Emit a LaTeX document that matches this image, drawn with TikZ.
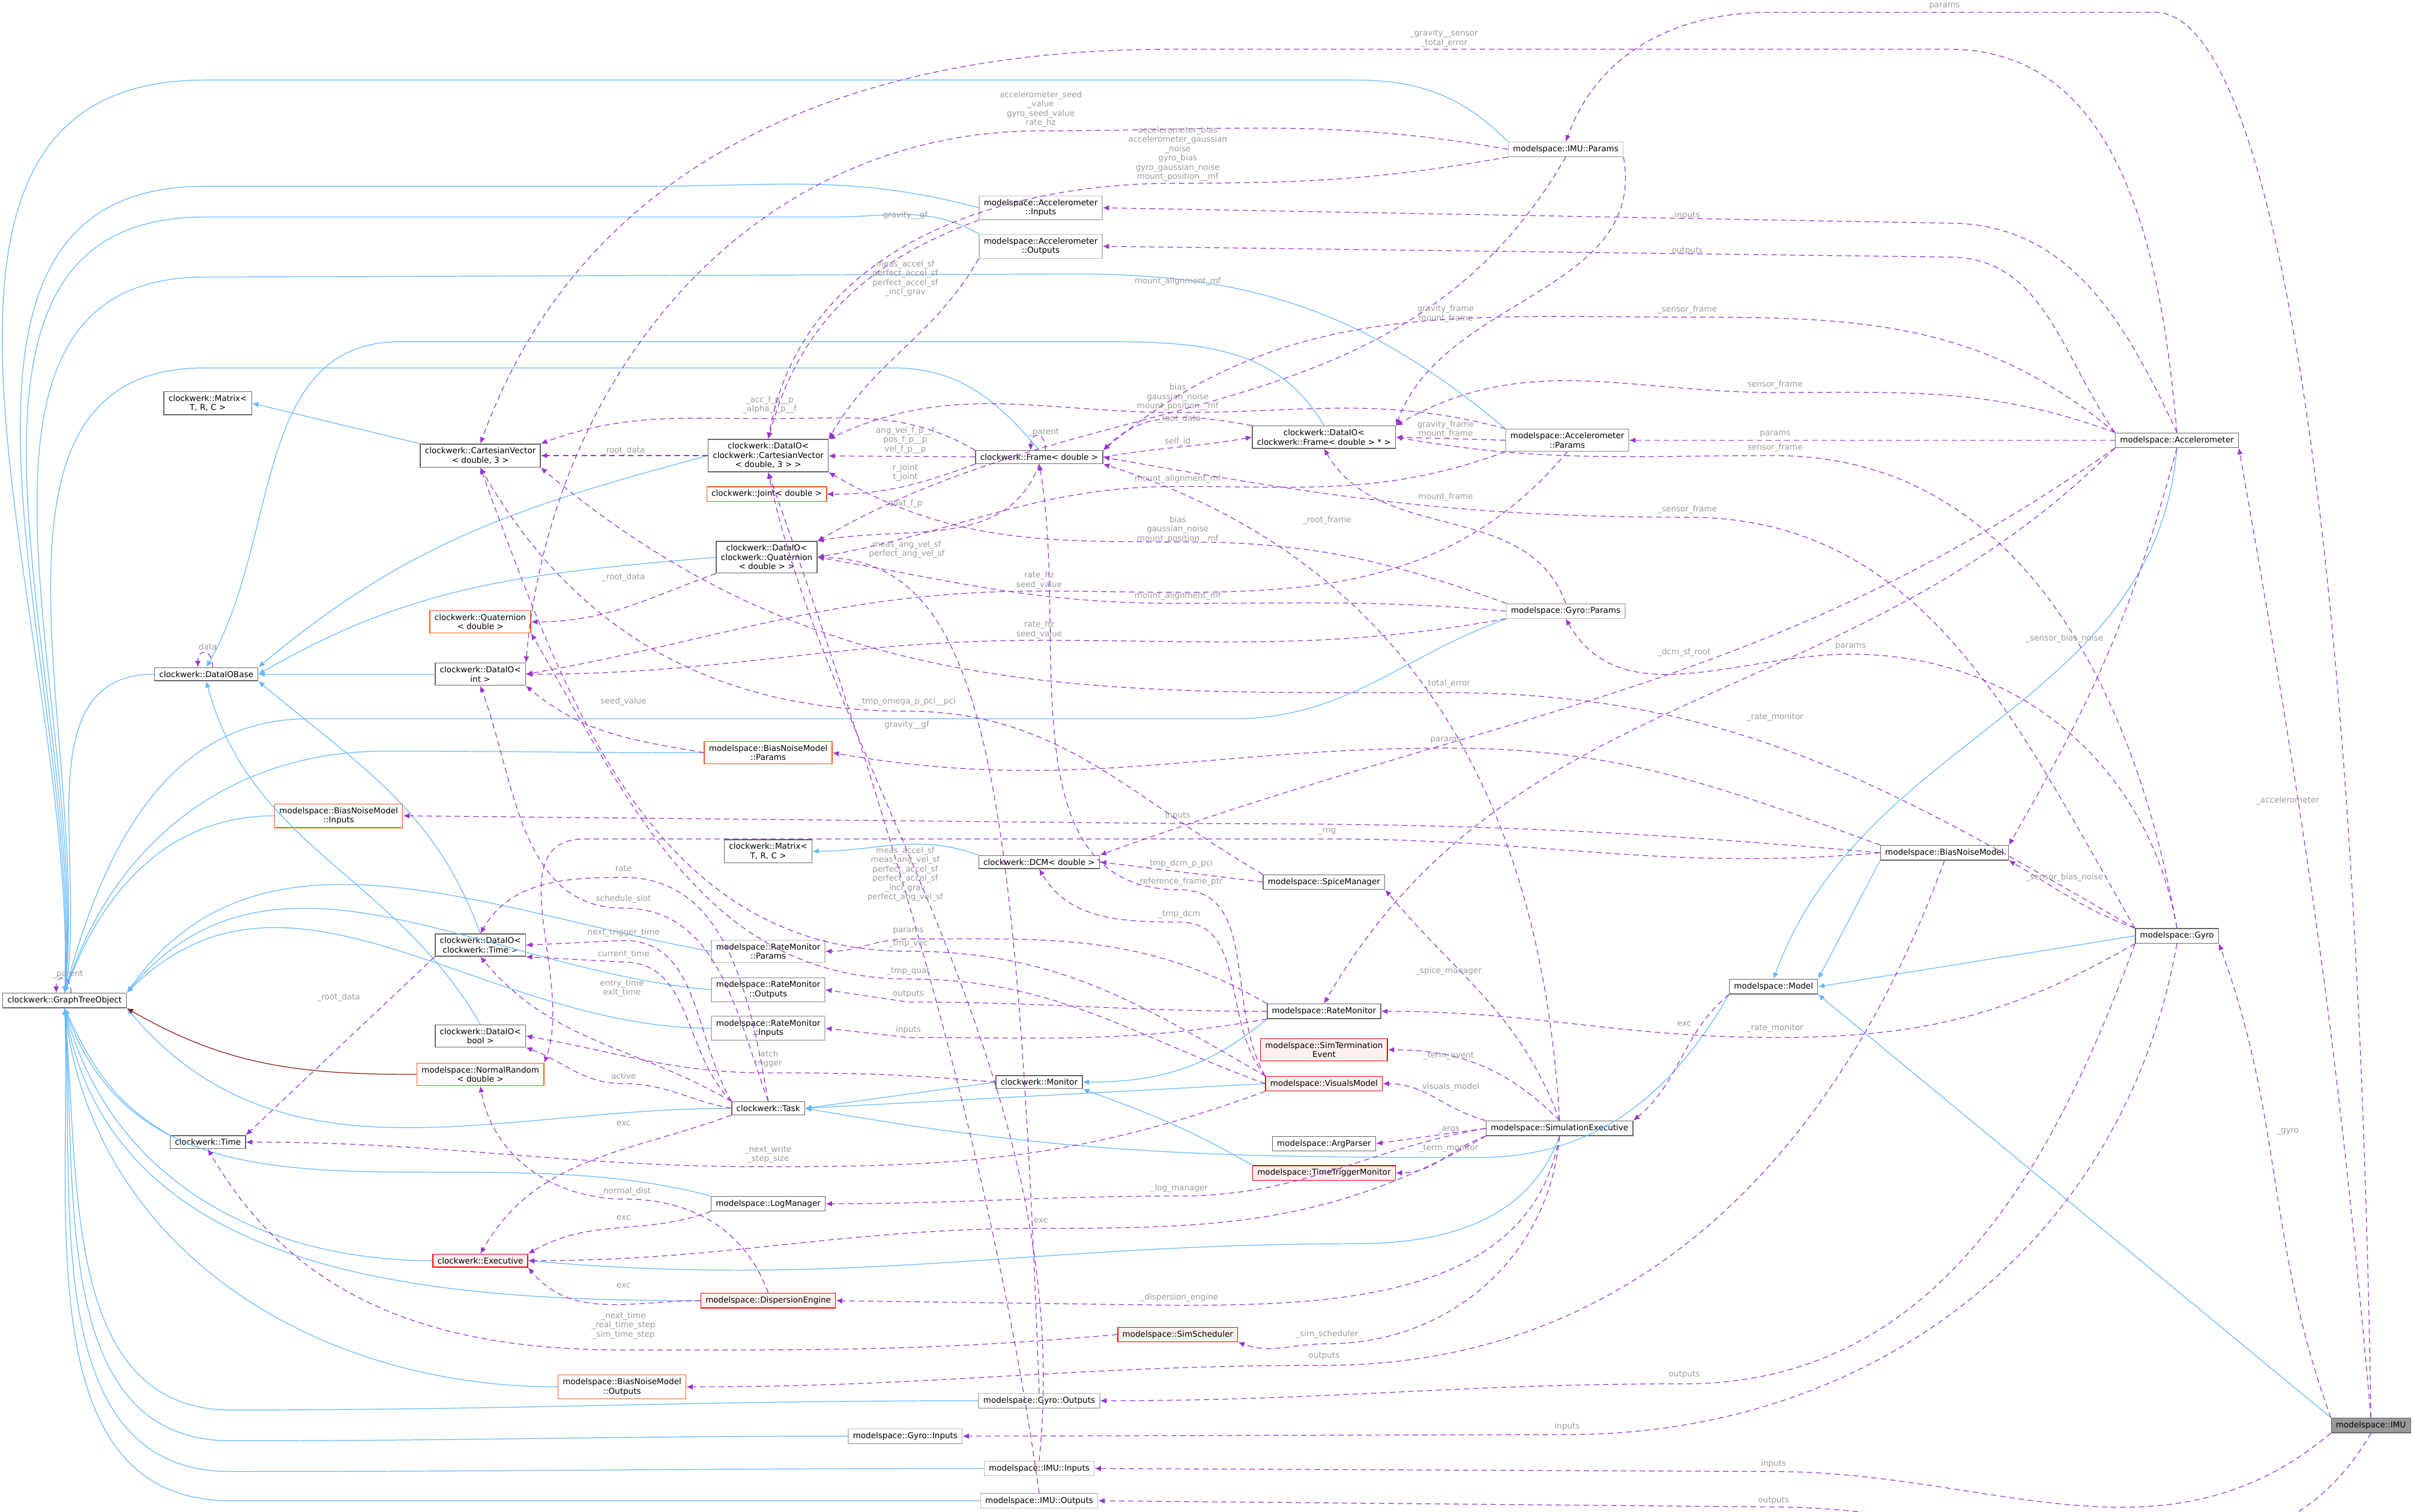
\documentclass[tikz,border=0pt]{standalone}
\usepackage{fontspec}
\setmainfont{DejaVu Sans}
\usepackage{tikz}
\usetikzlibrary{arrows.meta,calc}
\definecolor{usepurple}{HTML}{9A32CD}
\definecolor{inhblue}{HTML}{63B8FF}
\definecolor{tmpred}{HTML}{8B1A1A}
\definecolor{lblgray}{HTML}{9A9A9A}
\definecolor{boxgray}{HTML}{666666}
\definecolor{boxlight}{HTML}{BFBFBF}
\definecolor{boxorange}{HTML}{FF570F}
\definecolor{boxred}{HTML}{FF0000}
\definecolor{redfill}{HTML}{FFF0F0}
\definecolor{imufill}{HTML}{999999}

\begin{document}
\begin{tikzpicture}[
    x=0.02564cm, y=-0.02564cm,
    every node/.style={font=\fontsize{3.85}{4.4}\selectfont},
    box/.style={rectangle, draw=boxgray, fill=white, align=center, inner xsep=2.2pt, inner ysep=1.6pt, line width=0.4pt},
    lightbox/.style={box, draw=boxlight},
    orangebox/.style={box, draw=boxorange},
    redbox/.style={box, draw=boxred, fill=redfill},
    inh/.style={-{Latex[length=3pt,width=2.6pt]}, color=inhblue, line width=0.35pt},
    tmpl/.style={-{Latex[length=3pt,width=2.6pt]}, color=tmpred, line width=0.35pt},
    use/.style={-{Latex[length=3pt,width=2.6pt]}, color=usepurple, dash pattern=on 2.6pt off 1.8pt, line width=0.35pt},
    lbl/.style={text=lblgray, align=center, inner sep=0.5pt}
]
    \useasboundingbox (0,0) rectangle (1568,982);

    % clockwerk classes
    \node[box] (gto) at (42,650) {clockwerk::GraphTreeObject};
    \node[box] (iobase) at (134,438) {clockwerk::DataIOBase};
    \node[box] (matA) at (135,262) {clockwerk::Matrix<\\T, R, C >};
    \node[box] (cvec) at (312,296) {clockwerk::CartesianVector\\< double, 3 >};
    \node[orangebox] (quat) at (312,404) {clockwerk::Quaternion\\< double >};
    \node[box] (ioint) at (312,438) {clockwerk::DataIO<\\int >};
    \node[box] (iotime) at (312,614) {clockwerk::DataIO<\\clockwerk::Time >};
    \node[box] (iobool) at (312,673) {clockwerk::DataIO<\\bool >};
    \node[box] (time) at (135,742) {clockwerk::Time};
    \node[redbox] (exec) at (312,819) {clockwerk::Executive};
    \node[box] (iocvec) at (499,296) {clockwerk::DataIO<\\clockwerk::CartesianVector\\< double, 3 > >};
    \node[orangebox] (joint) at (498,321) {clockwerk::Joint< double >};
    \node[box] (ioquat) at (498,362) {clockwerk::DataIO<\\clockwerk::Quaternion\\< double > >};
    \node[box] (matB) at (499,553) {clockwerk::Matrix<\\T, R, C >};
    \node[box] (task) at (499,720) {clockwerk::Task};
    \node[box] (frame) at (675,297) {clockwerk::Frame< double >};
    \node[box] (dcm) at (675,560) {clockwerk::DCM< double >};
    \node[box] (monitor) at (675,703) {clockwerk::Monitor};
    \node[box] (ioframe) at (860,284) {clockwerk::DataIO<\\clockwerk::Frame< double > * >};

    % modelspace classes
    \node[orangebox] (bnmin) at (220,530) {modelspace::BiasNoiseModel\\::Inputs};
    \node[orangebox] (nrand) at (312,698) {modelspace::NormalRandom\\< double >};
    \node[orangebox] (bnmout) at (404,901) {modelspace::BiasNoiseModel\\::Outputs};
    \node[orangebox] (bnmpar) at (499,489) {modelspace::BiasNoiseModel\\::Params};
    \node[lightbox] (rmpar) at (499,618) {modelspace::RateMonitor\\::Params};
    \node[lightbox] (rmout) at (499,643) {modelspace::RateMonitor\\::Outputs};
    \node[lightbox] (rmin) at (499,668) {modelspace::RateMonitor\\::Inputs};
    \node[box] (logm) at (499,782) {modelspace::LogManager};
    \node[redbox] (disp) at (499,845) {modelspace::DispersionEngine};
    \node[lightbox] (gyin) at (588,933) {modelspace::Gyro::Inputs};
    \node[lightbox] (accin) at (676,135) {modelspace::Accelerometer\\::Inputs};
    \node[lightbox] (accout) at (676,160) {modelspace::Accelerometer\\::Outputs};
    \node[lightbox] (gyout) at (675,910) {modelspace::Gyro::Outputs};
    \node[lightbox] (imuin) at (675,954) {modelspace::IMU::Inputs};
    \node[lightbox] (imuout) at (675,975) {modelspace::IMU::Outputs};
    \node[redbox] (sched) at (765,867) {modelspace::SimScheduler};
    \node[box] (spice) at (860,573) {modelspace::SpiceManager};
    \node[box] (ratemon) at (860,657) {modelspace::RateMonitor};
    \node[redbox] (term) at (860,682) {modelspace::SimTermination\\Event};
    \node[redbox] (visual) at (860,704) {modelspace::VisualsModel};
    \node[box] (args) at (860,743) {modelspace::ArgParser};
    \node[redbox] (ttm) at (860,762) {modelspace::TimeTriggerMonitor};
    \node[lightbox] (imupar) at (1017,97) {modelspace::IMU::Params};
    \node[lightbox] (accpar) at (1018,286) {modelspace::Accelerometer\\::Params};
    \node[lightbox] (gypar) at (1017,397) {modelspace::Gyro::Params};
    \node[box] (simexec) at (1013,733) {modelspace::SimulationExecutive};
    \node[box] (model) at (1152,641) {modelspace::Model};
    \node[box] (bnm) at (1263,554) {modelspace::BiasNoiseModel};
    \node[box] (accel) at (1414,286) {modelspace::Accelerometer};
    \node[box] (gyro) at (1414,608) {modelspace::Gyro};
    \node[box, fill=imufill] (imu) at (1540,926) {modelspace::IMU};

    % inheritance
    \draw[inh] (iobase.west) to[out=180,in=80] (gto.north);
    \draw[inh] (iocvec.west) to[out=195,in=40] (iobase.north east);
    \draw[inh] (ioquat.west) to[out=185,in=30] (iobase.east);
    \draw[inh] (ioint) -- (iobase);
    \draw[inh] (iotime.north) to[out=110,in=-40] (iobase.south east);
    \draw[inh] (iobool.north) to[out=120,in=-75] (iobase.south);
    \draw[inh] (ioframe.north) to[out=120,in=0] (700,222) -- (260,222) to[out=180,in=60] (iobase.north);
    \draw[inh] (cvec.north west) -- (matA.east);
    \draw[inh] (dcm.north west) to[out=160,in=0] (matB.east);
    \draw[inh] (imupar.north west) to[out=135,in=0] (880,52) -- (133,52) to[out=180,in=88] (gto.north);
    \draw[inh] (accin.west) to[out=165,in=0] (420,121) -- (133,121) to[out=180,in=87] (gto.north);
    \draw[inh] (accout.north west) to[out=150,in=0] (540,141) -- (133,141) to[out=180,in=86] (gto.north);
    \draw[inh] (accpar.north west) to[out=140,in=0] (700,178) -- (133,180) to[out=180,in=85] (gto.north);
    \draw[inh] (frame.north) to[out=130,in=0] (580,239) -- (133,239) to[out=180,in=84] (gto.north);
    \draw[inh] (gypar.south west) to[out=200,in=0] (800,467) -- (200,467) to[out=180,in=75] (gto.north);
    \draw[inh] (bnmpar.west) to[out=180,in=0] (250,488) to[out=180,in=72] (gto.north);
    \draw[inh] (bnmin.west) to[out=180,in=70] (gto.north);
    \draw[inh] (rmpar.west) to[out=170,in=55] (gto.north east);
    \draw[inh] (rmout.west) to[out=175,in=50] (gto.north east);
    \draw[inh] (rmin.west) to[out=180,in=45] (gto.north east);
    \draw[inh] (task.west) to[out=180,in=-50] (gto.south east);
    \draw[inh] (time.north west) to[out=150,in=-65] (gto.south);
    \draw[inh] (logm.north west) to[out=165,in=-70] (gto.south);
    \draw[inh] (exec.west) to[out=180,in=-75] (gto.south);
    \draw[inh] (disp.west) to[out=180,in=-80] (gto.south);
    \draw[inh] (bnmout.west) to[out=180,in=-83] (gto.south);
    \draw[inh] (gyout.west) to[out=180,in=0] (150,916) to[out=180,in=-85] (gto.south);
    \draw[inh] (gyin.west) to[out=180,in=0] (150,936) to[out=180,in=-86] (gto.south);
    \draw[inh] (imuin.west) to[out=180,in=0] (150,956) to[out=180,in=-87] (gto.south);
    \draw[inh] (imuout.west) to[out=180,in=0] (150,975) to[out=180,in=-88] (gto.south);
    \draw[inh] (monitor.west) -- (task.east);
    \draw[inh] (ratemon.south west) to[out=220,in=0] (monitor.east);
    \draw[inh] (visual.west) -- (task.east);
    \draw[inh] (ttm.north west) to[out=150,in=-20] (monitor.south east);
    \draw[inh] (model.south west) to[out=240,in=0] (960,752) to[out=180,in=-10] (task.east);
    \draw[inh] (simexec.south) to[out=-110,in=0] (880,808) to[out=180,in=-5] (exec.east);
    \draw[inh] (accel.south) to[out=-95,in=70] (model.north);
    \draw[inh] (gyro.west) -- (model.east);
    \draw[inh] (bnm.south west) -- (model.north east);
    \draw[inh] (imu.north west) -- (model.south east);
    \draw[tmpl] (nrand.west) to[out=180,in=-30] (gto.south east);

    % self references
    \draw[use] ([xshift=3pt]gto.north) .. controls +(0,9pt) and +(0,9pt) .. ([xshift=-4pt]gto.north) node[lbl] at (44,633) {\_parent};
    \draw[use] ([xshift=3pt]iobase.north) .. controls +(0,9pt) and +(0,9pt) .. ([xshift=-4pt]iobase.north) node[lbl] at (135,420) {data};
    \draw[use] ([xshift=3pt]frame.north) .. controls +(0,9pt) and +(0,9pt) .. ([xshift=-4pt]frame.north) node[lbl] at (678,281) {\_parent};

    % clockwerk members
    \draw[use] (iocvec) -- (cvec) node[lbl] at (405,293) {\_root\_data};
    \draw[use] (ioquat.south west) to[out=200,in=0] (quat.east) node[lbl] at (405,375) {\_root\_data};
    \draw[use] (iotime.south west) -- (time.north east) node[lbl] at (220,648) {\_root\_data};
    \draw[use] (frame) -- (iocvec) node[lbl] at (588,286) {ang\_vel\_f\_p\_\_f\\pos\_f\_p\_\_p\\vel\_f\_p\_\_p};
    \draw[use] (frame.south west) to[out=200,in=0] (joint.east) node[lbl] at (588,307) {r\_joint\\t\_joint};
    \draw[use] (frame.south) to[out=250,in=10] (ioquat.north east) node[lbl] at (588,327) {quat\_f\_p};
    \draw[use] (frame.east) to[out=10,in=190] (ioframe.west) node[lbl] at (765,287) {self\_id};
    \draw[use] (ioframe.north west) to[out=170,in=45] (frame.north east) node[lbl] at (766,272) {\_root\_data};
    \draw[use] (frame.north west) to[out=150,in=0] (500,272) to[out=180,in=20] (cvec.north east) node[lbl] at (500,263) {\_acc\_f\_p\_\_p\\\_alpha\_f\_p\_\_f};

    % parameter members
    \draw[use] (imupar.west) to[out=170,in=0] (676,85) to[out=180,in=85] (ioint.north east) node[lbl] at (676,71) {accelerometer\_seed\\\_value\\gyro\_seed\_value\\rate\_hz};
    \draw[use] (imupar.south west) to[out=190,in=0] (765,119) to[out=180,in=80] (iocvec.north) node[lbl] at (765,100) {accelerometer\_bias\\accelerometer\_gaussian\\\_noise\\gyro\_bias\\gyro\_gaussian\_noise\\mount\_position\_\_mf};
    \draw[use] (imupar.south) to[out=-120,in=30] (ioquat.north east) node[lbl] at (765,183) {mount\_alignment\_mf};
    \draw[use] (imupar.south east) to[out=-80,in=70] (ioframe.north east) node[lbl] at (939,204) {gravity\_frame\\mount\_frame};
    \draw[use] (accin.south west) to[out=200,in=75] (iocvec.north) node[lbl] at (588,140) {gravity\_\_gf};
    \draw[use] (accout.south west) to[out=240,in=60] (iocvec.north east) node[lbl] at (588,181) {meas\_accel\_sf\\perfect\_accel\_sf\\perfect\_accel\_sf\\\_incl\_grav};
    \draw[use] (accpar.west) -- (ioframe.east) node[lbl] at (939,279) {gravity\_frame\\mount\_frame};
    \draw[use] (accpar.north west) to[out=165,in=0] (765,268) to[out=180,in=25] (iocvec.north east) node[lbl] at (765,258) {bias\\gaussian\_noise\\mount\_position\_\_mf};
    \draw[use] (accpar.south west) to[out=200,in=0] (765,316) to[out=180,in=10] (ioquat.east) node[lbl] at (765,311) {mount\_alignment\_mf};
    \draw[use] (accpar.south) to[out=230,in=0] (675,384) to[out=180,in=10] (ioint.east) node[lbl] at (675,377) {rate\_hz\\seed\_value};
    \draw[use] (gypar.north west) to[out=160,in=0] (765,352) to[out=180,in=-30] (iocvec.south east) node[lbl] at (765,344) {bias\\gaussian\_noise\\mount\_position\_\_mf};
    \draw[use] (gypar.west) to[out=175,in=0] (765,392) to[out=180,in=-10] (ioquat.east) node[lbl] at (765,387) {mount\_alignment\_mf};
    \draw[use] (gypar.south west) to[out=190,in=0] (675,416) to[out=180,in=0] (ioint.east) node[lbl] at (675,409) {rate\_hz\\seed\_value};
    \draw[use] (gypar.north) to[out=110,in=-60] (ioframe.south) node[lbl] at (939,323) {mount\_frame};
    \draw[use] (bnmpar.west) to[out=170,in=-40] (ioint.south east) node[lbl] at (405,456) {seed\_value};

    % sensor members
    \draw[use] (accel.north) to[out=95,in=0] (1266,32) -- (760,32) to[out=180,in=70] (cvec.north) node[lbl] at (938,25) {\_gravity\_\_sensor\\\_total\_error};
    \draw[use] (imu.north) .. controls (1530,300) and (1470,8) .. (1400,8) -- (1150,8) to[out=180,in=70] (imupar.north) node[lbl] at (1263,4) {params};
    \draw[use] (accel.north) to[out=115,in=0] (1266,145) -- (accin.east) node[lbl] at (1096,140) {inputs};
    \draw[use] (accel.north west) to[out=125,in=0] (1266,167) -- (accout.east) node[lbl] at (1096,163) {outputs};
    \draw[use] (accel.north west) to[out=140,in=0] (1096,206) to[out=180,in=40] (frame.north east) node[lbl] at (1096,201) {\_sensor\_frame};
    \draw[use] (accel.north west) to[out=160,in=0] (1153,255) to[out=180,in=30] (ioframe.north east) node[lbl] at (1153,250) {sensor\_frame};
    \draw[use] (accel) -- (accpar) node[lbl] at (1153,282) {params};
    \draw[use] (gyro.north) to[out=100,in=0] (1153,296) to[out=180,in=-10] (ioframe.east) node[lbl] at (1153,291) {sensor\_frame};
    \draw[use] (gyro.north west) to[out=120,in=0] (1096,336) to[out=180,in=-10] (frame.east) node[lbl] at (1096,331) {\_sensor\_frame};
    \draw[use] (gyro.north west) to[out=150,in=0] (940,450) to[out=180,in=-40] (cvec.south east) node[lbl] at (940,444) {\_total\_error};
    \draw[use] (gyro.north) to[out=100,in=0] (1202,425) to[out=180,in=-60] (gypar.south) node[lbl] at (1202,420) {params};
    \draw[use] (accel.south) to[out=-105,in=60] (bnm.north east) node[lbl] at (1341,415) {\_sensor\_bias\_noise};
    \draw[use] (gyro.north west) to[out=160,in=-30] (bnm.south east) node[lbl] at (1341,570) {\_sensor\_bias\_noise};
    \draw[use] (accel.south west) to[out=225,in=60] (ratemon.north) node[lbl] at (1153,466) {\_rate\_monitor};
    \draw[use] (gyro.south west) to[out=210,in=0] (1153,674) to[out=180,in=0] (ratemon.east) node[lbl] at (1153,668) {\_rate\_monitor};
    \draw[use] (accel.south west) to[out=215,in=20] (dcm.north east) node[lbl] at (1094,424) {\_dcm\_sf\_root};
    \draw[use] (gyro.south west) to[out=250,in=0] (1094,899) to[out=180,in=0] (gyout.east) node[lbl] at (1094,893) {outputs};
    \draw[use] (gyro.south) to[out=-100,in=0] (1018,932) -- (gyin.east) node[lbl] at (1018,927) {inputs};
    \draw[use] (imu.south west) to[out=220,in=0] (1152,956) -- (imuin.east) node[lbl] at (1152,951) {inputs};
    \draw[use] (imu.south) to[out=240,in=0] (1152,979) -- (imuout.east) node[lbl] at (1152,975) {outputs};
    \draw[use] (imu.north) to[out=95,in=-80] (accel.south east) node[lbl] at (1486,520) {\_accelerometer};
    \draw[use] (imu.north west) to[out=110,in=-70] (gyro.south east) node[lbl] at (1486,735) {\_gyro};

    % noise model members
    \draw[use] (bnm.north west) to[out=160,in=0] (939,486) to[out=180,in=-10] (bnmpar.east) node[lbl] at (939,481) {params};
    \draw[use] (bnm.west) to[out=175,in=0] (765,535) -- (bnmin.east) node[lbl] at (765,530) {inputs};
    \draw[use] (bnm.west) to[out=185,in=0] (862,545) -- (380,545) to[out=180,in=70] (nrand.north east) node[lbl] at (862,540) {\_rng};
    \draw[use] (bnm.south) to[out=-110,in=0] (860,887) to[out=180,in=0] (bnmout.east) node[lbl] at (860,881) {outputs};

    % output and input members
    \draw[use] (imuin.north) .. controls (700,700) and (540,500) .. (iocvec.south) node[lbl] at (589,471) {gravity\_\_gf};
    \draw[use] (imuout.north) .. controls (640,720) and (560,480) .. (iocvec.south) node[lbl] at (588,568) {meas\_accel\_sf\\meas\_ang\_vel\_sf\\perfect\_accel\_sf\\perfect\_accel\_sf\\\_incl\_grav\\perfect\_ang\_vel\_sf};
    \draw[use] (gyout.north) .. controls (660,500) and (640,364) .. (ioquat.east) node[lbl] at (589,357) {meas\_ang\_vel\_sf\\perfect\_ang\_vel\_sf};

    % simulation members
    \draw[use] (spice.north west) to[out=150,in=0] (589,462) to[out=180,in=-60] (cvec.south) node[lbl] at (589,456) {\_tmp\_omega\_p\_pci\_\_pci};
    \draw[use] (spice.west) -- (dcm.east) node[lbl] at (766,561) {\_tmp\_dcm\_p\_pci};
    \draw[use] (visual.north west) to[out=120,in=0] (766,578) to[out=180,in=-80] (frame.south) node[lbl] at (766,573) {\_reference\_frame\_ptr};
    \draw[use] (visual.north west) to[out=130,in=0] (766,599) to[out=180,in=-60] (dcm.south) node[lbl] at (766,594) {\_tmp\_dcm};
    \draw[use] (visual.north west) to[out=150,in=0] (590,618) to[out=180,in=-70] (cvec.south) node[lbl] at (590,613) {\_tmp\_vec};
    \draw[use] (visual.west) to[out=160,in=0] (590,636) to[out=180,in=-60] (quat.south east) node[lbl] at (590,631) {\_tmp\_quat};
    \draw[use] (visual.south west) to[out=200,in=0] (499,758) to[out=180,in=0] (time.east) node[lbl] at (499,750) {\_next\_write\\\_step\_size};
    \draw[use] (ratemon.north west) to[out=150,in=0] (590,610) to[out=180,in=0] (rmpar.east) node[lbl] at (590,605) {params};
    \draw[use] (ratemon.west) to[out=180,in=0] (590,651) -- (rmout.east) node[lbl] at (590,646) {outputs};
    \draw[use] (ratemon.south west) to[out=190,in=0] (590,674) -- (rmin.east) node[lbl] at (590,669) {inputs};
    \draw[use] (task.north west) to[out=120,in=0] (405,611) -- (iotime.east) node[lbl] at (405,606) {next\_trigger\_time};
    \draw[use] (task.north west) to[out=135,in=0] (405,625) -- (iotime.south east) node[lbl] at (405,620) {current\_time};
    \draw[use] (task.north west) to[out=150,in=-50] (iotime.south) node[lbl] at (404,642) {entry\_time\\exit\_time};
    \draw[use] (task.north) to[out=100,in=0] (405,570) to[out=180,in=60] (iotime.north) node[lbl] at (405,564) {rate};
    \draw[use] (task.north) to[out=110,in=0] (405,590) to[out=180,in=-70] (ioint.south) node[lbl] at (405,584) {schedule\_slot};
    \draw[use] (task.west) to[out=170,in=0] (405,704) to[out=180,in=-20] (iobool.south east) node[lbl] at (405,699) {active};
    \draw[use] (monitor.west) to[out=175,in=0] (499,697) to[out=180,in=-10] (iobool.east) node[lbl] at (499,688) {latch\\trigger};
    \draw[use] (task.south west) to[out=200,in=60] (exec.north) node[lbl] at (405,730) {exc};
    \draw[use] (logm.south west) to[out=200,in=30] (exec.north east) node[lbl] at (405,791) {exc};
    \draw[use] (disp.west) to[out=180,in=-50] (exec.south east) node[lbl] at (405,835) {exc};
    \draw[use] (disp.north) to[out=110,in=0] (406,779) to[out=180,in=-80] (nrand.south) node[lbl] at (406,774) {\_normal\_dist};
    \draw[use] (sched.west) to[out=185,in=0] (405,877) to[out=180,in=-60] (time.south) node[lbl] at (405,861) {\_next\_time\\\_real\_time\_step\\\_sim\_time\_step};
    \draw[use] (simexec.north) .. controls (1000,500) and (900,360) .. (frame.south east) node[lbl] at (862,338) {\_root\_frame};
    \draw[use] (simexec.north) to[out=135,in=0] (term.east) node[lbl] at (941,686) {\_term\_event};
    \draw[use] (simexec.north west) to[out=165,in=0] (visual.east) node[lbl] at (941,706) {\_visuals\_model};
    \draw[use] (simexec.west) -- (args.east) node[lbl] at (941,734) {\_args};
    \draw[use] (simexec.south west) to[out=200,in=0] (ttm.east) node[lbl] at (941,746) {\_term\_monitor};
    \draw[use] (simexec.west) to[out=190,in=0] (766,777) to[out=180,in=0] (logm.east) node[lbl] at (766,772) {\_log\_manager};
    \draw[use] (simexec.south west) to[out=210,in=0] (676,798) to[out=180,in=0] (exec.east) node[lbl] at (676,793) {exc};
    \draw[use] (simexec.south) to[out=-100,in=0] (766,848) -- (disp.east) node[lbl] at (766,843) {\_dispersion\_engine};
    \draw[use] (simexec.south) to[out=-95,in=0] (862,873) to[out=180,in=-20] (sched.south east) node[lbl] at (862,867) {\_sim\_scheduler};
    \draw[use] (simexec.north) to[out=110,in=-50] (spice.south east) node[lbl] at (941,631) {\_spice\_manager};
    \draw[use] (model.south west) to[out=220,in=40] (simexec.north east) node[lbl] at (1094,665) {exc};
\end{tikzpicture}
\end{document}
